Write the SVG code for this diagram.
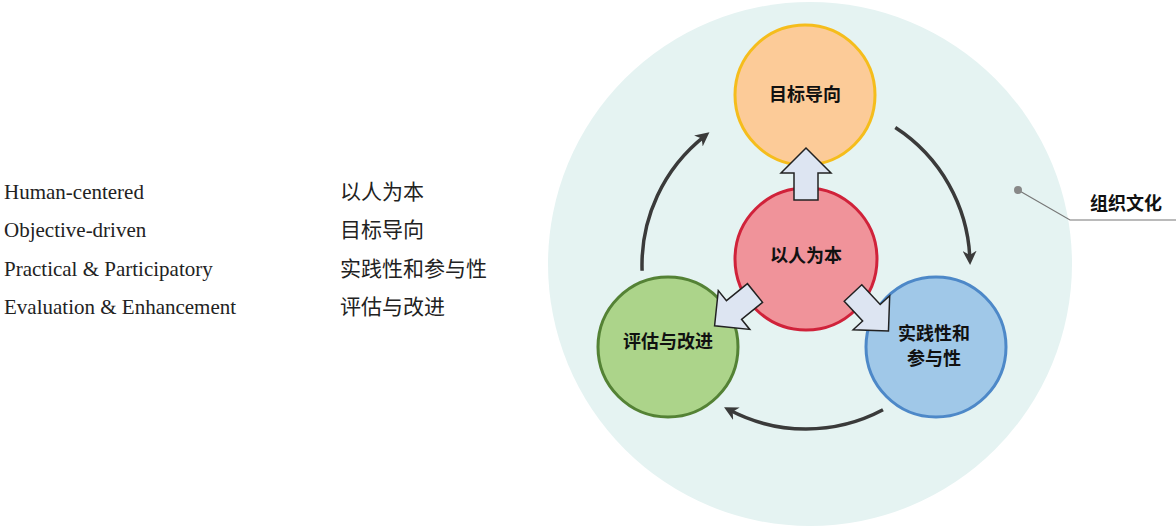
<svg xmlns="http://www.w3.org/2000/svg" width="1176" height="532" viewBox="0 0 1176 532">
<style>
.en{font-family:"Liberation Serif","DejaVu Serif",serif;font-size:21px;fill:#222}
.zh{font-family:"Noto Sans CJK SC",sans-serif;font-size:21px;fill:#222}
.nl{font-family:"Noto Sans CJK SC",sans-serif;font-size:18px;font-weight:bold;fill:#111;text-anchor:middle}
.blk{fill:#dde5f2;stroke:#222;stroke-width:1.5}
.cyc{fill:none;stroke:#3a3a3a;stroke-width:3.5}
</style>
<defs>
<marker id="ah" viewBox="0 0 10 10" refX="6" refY="5" markerWidth="4" markerHeight="4" orient="auto" markerUnits="strokeWidth"><path d="M0,0 L10,5 L0,10 L3,5 Z" fill="#3a3a3a"/></marker>
<path id="ba" d="M0,-12 L27,-12 L27,-25 L52,0 L27,25 L27,12 L0,12 Z"/>
</defs>
<rect width="1176" height="532" fill="#fff"/>
<g id="legend">
<text class="en" x="4" y="199">Human-centered</text>
<text class="en" x="4" y="237">Objective-driven</text>
<text class="en" x="4" y="276">Practical &amp; Participatory</text>
<text class="en" x="4" y="314">Evaluation &amp; Enhancement</text>
<text class="zh" x="340" y="199">以人为本</text>
<text class="zh" x="340" y="237">目标导向</text>
<text class="zh" x="340" y="276">实践性和参与性</text>
<text class="zh" x="340" y="314">评估与改进</text>
</g>
<g id="culture">
<circle cx="810" cy="264" r="262" fill="#e5f3f2"/>
</g>
<g id="connectors">
<path class="cyc" d="M895.3,127.5 A164,164 0 0 1 969.9,259.3" marker-end="url(#ah)"/>
<path class="cyc" d="M883,409.8 A164,164 0 0 1 729,409.8" marker-end="url(#ah)"/>
<path class="cyc" d="M642.1,270.7 A164,164 0 0 1 705,135.8" marker-end="url(#ah)"/>
<path d="M1018,190 L1070,220 L1176,220" fill="none" stroke="#777" stroke-width="1.2"/>
<circle cx="1018" cy="190" r="4" fill="#888"/>
</g>
<g id="n-top"><circle cx="805" cy="95" r="70" fill="#fccb98" stroke="#f5bd1c" stroke-width="3"/><text class="nl" x="805" y="101">目标导向</text></g>
<g id="n-left"><circle cx="668" cy="347" r="70" fill="#acd48a" stroke="#548235" stroke-width="3"/><text class="nl" x="668" y="348">评估与改进</text></g>
<g id="n-right"><circle cx="936" cy="347" r="70" fill="#a0c8e8" stroke="#4d88c8" stroke-width="3"/><text class="nl" x="934" y="340">实践性和</text><text class="nl" x="934" y="365">参与性</text></g>
<g id="n-center"><circle cx="806" cy="259" r="71" fill="#f0939a" stroke="#d0223a" stroke-width="3"/><text class="nl" x="806" y="262">以人为本</text></g>
<g id="arrows">
<use href="#ba" class="blk" transform="translate(806,200) rotate(-90)"/>
<use href="#ba" class="blk" transform="translate(755,293) rotate(141)"/>
<use href="#ba" class="blk" transform="translate(853,293) rotate(47)"/>
</g>
<g id="label"><text x="1090" y="210" style="font-family:'Noto Sans CJK SC',sans-serif;font-size:18px;font-weight:bold;fill:#111">组织文化</text></g>
</svg>
